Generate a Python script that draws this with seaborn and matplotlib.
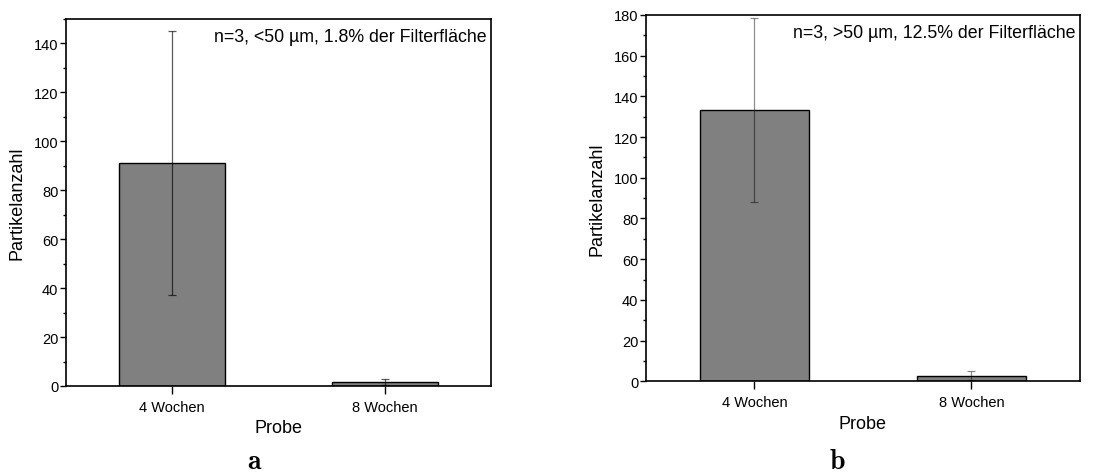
import numpy as np
import pandas as pd
import matplotlib
matplotlib.use("Agg")
import matplotlib.pyplot as plt
from matplotlib.ticker import MultipleLocator
import seaborn as sns

# data
proben = ["4 Wochen", "8 Wochen"]
anzahl_klein = [91.0, 1.5]      # <50 µm
sd_klein = [54.0, 1.2]
anzahl_gross = [133.3, 2.7]     # >50 µm
sd_gross = [45.0, 2.2]

notiz_klein = "n=3, <50 µm, 1.8% der Filterfläche"
notiz_gross = "n=3, >50 µm, 12.5% der Filterfläche"

sns.set_theme(style="ticks")
plt.rcParams['font.family'] = ['Liberation Sans', 'DejaVu Sans']
plt.rcParams['text.color'] = "black"
plt.rcParams['axes.labelcolor'] = "black"

fig = plt.figure(figsize=(11.08, 4.77), dpi=100)
ax_a = fig.add_axes([0.0596, 0.1887, 0.3836, 0.7694])
ax_b = fig.add_axes([0.5830, 0.1985, 0.3917, 0.7680])


def draw_panel(ax, werte, fehler, notiz, ymax, err_alpha):
    df = pd.DataFrame({"Probe": proben, "Partikelanzahl": werte})
    sns.barplot(data=df, x="Probe", y="Partikelanzahl", ax=ax, color="#808080",
                saturation=1, width=0.5, edgecolor="black", linewidth=1.0,
                errorbar=None)
    ax.errorbar(np.arange(len(proben)), werte, yerr=fehler, fmt="none",
                ecolor="black", alpha=err_alpha, elinewidth=0.9, capsize=3,
                capthick=0.9)
    ax.set_xlim(-0.5, len(proben) - 0.5)
    ax.set_ylim(0, ymax)
    ax.yaxis.set_major_locator(MultipleLocator(20))
    ax.yaxis.set_minor_locator(MultipleLocator(10))
    for s in ax.spines.values():
        s.set_visible(True)
        s.set_linewidth(1.2)
        s.set_color("black")
    ax.tick_params(axis="y", which="major", direction="out", length=4, width=1,
                   labelsize=10.5, pad=1.5, colors="black")
    ax.tick_params(axis="y", which="minor", direction="out", length=2.5, width=1,
                   colors="black")
    ax.tick_params(axis="x", which="major", direction="out", length=6, width=1,
                   labelsize=10.5, pad=4, colors="black")
    ax.set_xlabel("Probe", fontsize=13, labelpad=4)
    ax.set_ylabel("Partikelanzahl", fontsize=13, labelpad=6)
    ax.text(0.99, 0.975, notiz, transform=ax.transAxes, ha="right", va="top",
            fontsize=12.8)


draw_panel(ax_a, anzahl_klein, sd_klein, notiz_klein, 150, 0.65)
draw_panel(ax_b, anzahl_gross, sd_gross, notiz_gross, 180, 0.45)

fig.text(254 / 1108, 1 - 462 / 477, "a", ha="center", va="center",
         fontsize=20, fontweight="bold", family=["cmb10", "DejaVu Serif"])
fig.text(837 / 1108, 1 - 462 / 477, "b", ha="center", va="center",
         fontsize=20, fontweight="bold", family=["cmb10", "DejaVu Serif"])

fig.savefig("out.png", dpi=100)
